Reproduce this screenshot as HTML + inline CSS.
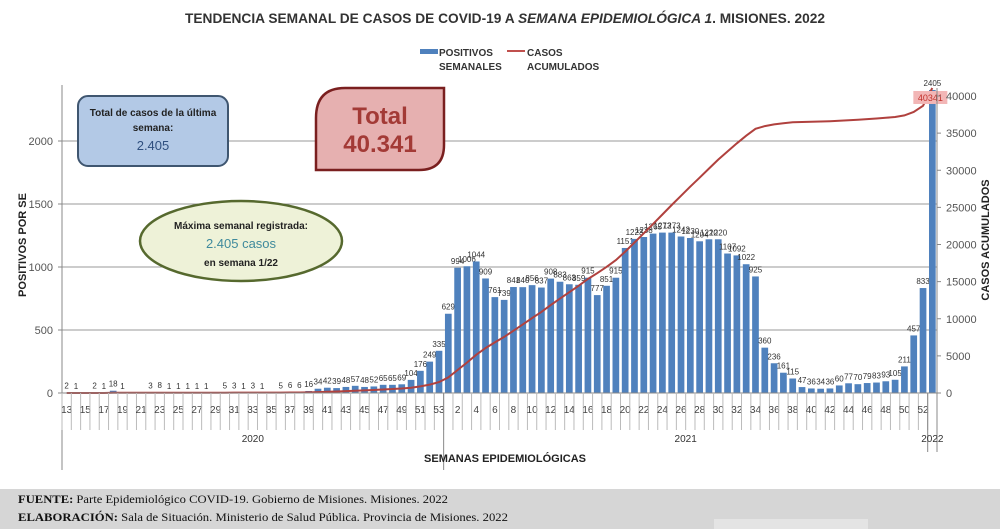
<!DOCTYPE html>
<html><head><meta charset="utf-8">
<style>
body{margin:0;background:#fff;}
svg{display:block;font-family:"Liberation Sans",sans-serif;}
</style></head>
<body>
<svg id="chart" width="1000" height="529" viewBox="0 0 1000 529" xmlns="http://www.w3.org/2000/svg">
<rect x="0" y="0" width="1000" height="529" fill="#fff"/>
<text x="505" y="23" text-anchor="middle" font-size="14" font-weight="bold" fill="#333" textLength="640" lengthAdjust="spacingAndGlyphs">TENDENCIA SEMANAL DE CASOS DE COVID-19 A <tspan font-style="italic">SEMANA EPIDEMIOLÓGICA 1</tspan>. MISIONES. 2022</text>
<g font-size="10" font-weight="bold" fill="#333">
<rect x="420" y="49" width="18" height="5" fill="#4f81bd"/>
<text x="439" y="56">POSITIVOS</text><text x="439" y="70">SEMANALES</text>
<line x1="507" y1="51" x2="525" y2="51" stroke="#c0504d" stroke-width="2"/>
<text x="527" y="56">CASOS</text><text x="527" y="70">ACUMULADOS</text>
</g>
<g id="grid"></g>
<g id="bars"></g>
<g id="line"></g>
<g id="axes"></g>
<g>
<rect x="78" y="96" width="150" height="70" rx="10" fill="#b3c9e6" stroke="#3f5670" stroke-width="2"/>
<text x="153" y="116" text-anchor="middle" font-size="10" font-weight="bold" fill="#222">Total de casos de la última</text>
<text x="153" y="131" text-anchor="middle" font-size="10" font-weight="bold" fill="#222">semana:</text>
<text x="153" y="150" text-anchor="middle" font-size="13" fill="#2f4f7f">2.405</text>
</g>
<g>
<path d="M345,88 L444,88 L444,145 Q444,170 419,170 L316,170 L316,118 Q316,88 345,88 Z" fill="#e6b0b0" stroke="#7a1f1f" stroke-width="2.5"/>
<text x="380" y="124" text-anchor="middle" font-size="24" font-weight="bold" fill="#a33a36">Total</text>
<text x="380" y="152" text-anchor="middle" font-size="24" font-weight="bold" fill="#a33a36">40.341</text>
</g>
<g>
<ellipse cx="241" cy="241" rx="101" ry="40" fill="#eef2d8" stroke="#56692e" stroke-width="2.5"/>
<text x="241" y="229" text-anchor="middle" font-size="10" font-weight="bold" fill="#222">Máxima semanal registrada:</text>
<text x="241" y="248" text-anchor="middle" font-size="13" fill="#3f8a9c">2.405 casos</text>
<text x="241" y="266" text-anchor="middle" font-size="10" font-weight="bold" fill="#222">en semana 1/22</text>
</g>
<text transform="translate(26,245) rotate(-90)" text-anchor="middle" font-size="11" font-weight="bold" fill="#222">POSITIVOS POR SE</text>
<text transform="translate(989,240) rotate(-90)" text-anchor="middle" font-size="11" font-weight="bold" fill="#222">CASOS ACUMULADOS</text>
<text x="505" y="462" text-anchor="middle" font-size="11" font-weight="bold" fill="#222">SEMANAS EPIDEMIOLÓGICAS</text>
<g>
<rect x="0" y="489" width="1000" height="40" fill="#d6d6d6"/>
<rect x="714" y="519" width="154" height="10" fill="#e4e4e4"/>
<text x="18" y="503" font-family="Liberation Serif,serif" font-size="12" fill="#111" textLength="430" lengthAdjust="spacingAndGlyphs"><tspan font-weight="bold">FUENTE:</tspan> Parte Epidemiológico COVID-19. Gobierno de Misiones. Misiones. 2022</text>
<text x="18" y="521" font-family="Liberation Serif,serif" font-size="12" fill="#111" textLength="490" lengthAdjust="spacingAndGlyphs"><tspan font-weight="bold">ELABORACIÓN:</tspan> Sala de Situación. Ministerio de Salud Pública. Provincia de Misiones. 2022</text>
</g>
</svg>
<script>
const weeks2020 = [13,14,15,16,17,18,19,20,21,22,23,24,25,26,27,28,29,30,31,32,33,34,35,36,37,38,39,40,41,42,43,44,45,46,47,48,49,50,51,52,53];
const values2020 = [2,1,0,2,1,18,1,0,0,3,8,1,1,1,1,1,0,5,3,1,3,1,0,5,6,6,16,34,42,39,48,57,48,52,65,65,69,104,176,249,335];
const values2021 = [629,994,1006,1044,909,761,739,841,840,856,837,908,883,863,859,915,777,851,915,1151,1223,1238,1265,1273,1273,1242,1230,1204,1220,1220,1107,1092,1022,925,360,236,161,115,47,36,34,36,60,77,70,79,83,93,105,211,457,833];
const values2022 = [2405];
const leftTicks = [0,500,1000,1500,2000];
const rightTicks = [0,5000,10000,15000,20000,25000,30000,35000,40000];
const totalLabel = "40341";

const NS="http://www.w3.org/2000/svg";
function mk(tag, attrs, parent){const e=document.createElementNS(NS,tag);for(const k in attrs)e.setAttribute(k,attrs[k]);parent.appendChild(e);return e;}
const values = values2020.concat(values2021, values2022);
const labels = weeks2020.concat(values2021.map((v,i)=>i+1), values2022.map((v,i)=>i+1));
const X0=62, X1=937, Y0=393, N=values.length, bw=(X1-X0)/N;
const yL = v => Y0 - v*0.126;
const yR = v => Y0 - v*(297/40000);
const xc = i => X0 + bw*(i+0.5);
const grid=document.getElementById('grid'), bars=document.getElementById('bars'), lineG=document.getElementById('line'), axes=document.getElementById('axes');

leftTicks.forEach(t=>{
  if(t>0){const g=mk('line',{x1:X0,x2:X1,y1:yL(t),y2:yL(t),stroke:'#9a9a9a','stroke-width':1},grid);
  
  }
  const tx=mk('text',{x:53,y:yL(t)+4,'text-anchor':'end','font-size':11,fill:'#555'},axes);
  tx.textContent=t;
  
  
  mk('line',{x1:X0-4,x2:X0,y1:yL(t),y2:yL(t),stroke:'#888'},axes);
});
rightTicks.forEach(t=>{
  const tx=mk('text',{x:946,y:yR(t)+4,'font-size':11,fill:'#555'},axes);
  tx.textContent=t;
  
  
  mk('line',{x1:X1,x2:X1+4,y1:yR(t),y2:yR(t),stroke:'#888'},axes);
});
mk('line',{x1:X0,x2:X0,y1:85,y2:470,stroke:'#888'},axes);
mk('line',{x1:X1,x2:X1,y1:88,y2:452,stroke:'#888'},axes);
mk('line',{x1:X0,x2:X1,y1:Y0,y2:Y0,stroke:'#888'},axes);

values.forEach((v,i)=>{
  const r=mk('rect',{x:xc(i)-bw*0.36,y:yL(v),width:bw*0.72,height:Y0-yL(v),fill:'#4f81bd'},bars);
  
  
  const t=mk('text',{x:xc(i),y:yL(v)-4,'text-anchor':'middle','font-size':8,fill:'#333'},bars);
  t.textContent = v===0?'':v;
  
  
  mk('line',{x1:X0+bw*i,x2:X0+bw*i,y1:Y0,y2:430,stroke:'#bbb'},axes);
  if(i%2===0){const l=mk('text',{x:xc(i),y:413,'text-anchor':'middle','font-size':10,fill:'#444'},axes);
  l.textContent=labels[i];
  
  }
});
const b1=values2020.length, b2=b1+values2021.length;
mk('line',{x1:X0+bw*b1,x2:X0+bw*b1,y1:Y0,y2:470,stroke:'#888'},axes);
mk('line',{x1:X0+bw*b2,x2:X0+bw*b2,y1:Y0,y2:452,stroke:'#888'},axes);
[['2020',(X0+X0+bw*b1)/2],['2021',(X0+bw*b1+X0+bw*b2)/2],['2022',(X0+bw*b2+X1)/2]].forEach(([s,x])=>{
  const t=mk('text',{x:x,y:442,'text-anchor':'middle','font-size':10,fill:'#333'},axes);
  t.textContent=s;
  
  
});

let cum=0; const pts=values.map((v,i)=>{cum+=v;return xc(i).toFixed(1)+','+yR(cum).toFixed(1);});
const pl=mk('polyline',{points:pts.join(' '),fill:'none',stroke:'#b0413e','stroke-width':2},lineG);


const lx=xc(N-1), ly=yR(cum);
const lb=mk('rect',{x:lx-19,y:ly+3,width:34,height:13,fill:'#f2b6b6'},lineG);


const lt=mk('text',{x:lx-2,y:ly+13,'text-anchor':'middle','font-size':9,fill:'#c0302b'},lineG);
lt.textContent=totalLabel;


</script>
</body></html>
